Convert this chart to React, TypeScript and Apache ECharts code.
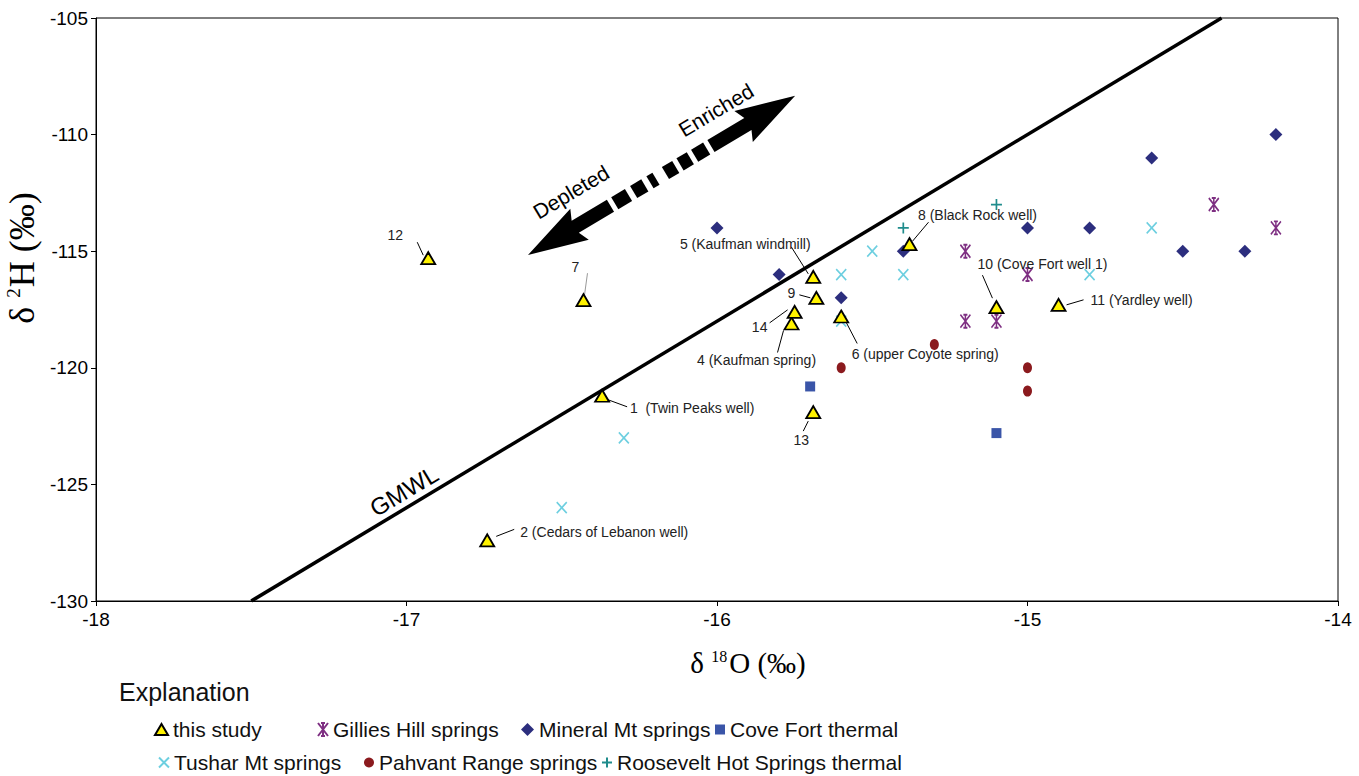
import React, { useEffect, useRef } from "react";
import * as echarts from "echarts";

// ---------- data ----------
const studyLabels = [
  "1  (Twin Peaks well)",
  "2 (Cedars of Lebanon well)",
  "4 (Kaufman spring)",
  "5 (Kaufman windmill)",
  "6 (upper Coyote spring)",
  "7",
  "8 (Black Rock well)",
  "9",
  "10 (Cove Fort well 1)",
  "11 (Yardley well)",
  "12",
  "13",
  "14",
];
const studyO18 = [-16.37, -16.74, -15.76, -15.69, -15.6, -16.43, -15.38, -15.68, -15.1, -14.9, -16.93, -15.69, -15.75];
const studyH2 = [-121.2, -127.4, -118.1, -116.1, -117.8, -117.1, -114.7, -117.0, -117.4, -117.3, -115.3, -121.9, -117.6];

const gilliesO18 = [-14.4, -14.2, -15.2, -15.0, -15.2, -15.1];
const gilliesH2 = [-113, -114, -115, -116, -118, -118];

const mineralO18 = [-14.2, -14.6, -15.0, -14.8, -14.5, -14.3, -15.4, -16.0, -15.8, -15.6];
const mineralH2 = [-110, -111, -114, -114, -115, -115, -115, -114, -116, -117];

const coveO18 = [-15.7, -15.1];
const coveH2 = [-120.8, -122.8];

const tusharO18 = [-14.6, -14.8, -15.4, -15.6, -15.5, -15.6, -16.3, -16.5];
const tusharH2 = [-114, -116, -116, -116, -115, -118, -123, -126];

const pahvantO18 = [-15.6, -15.0, -15.0, -15.3];
const pahvantH2 = [-120, -120, -121, -119];

const rooseveltO18 = [-15.1, -15.4];
const rooseveltH2 = [-113, -114];

const gmwlO18 = [-17.5, -14.375];
const gmwlH2 = [-130, -105];

const xTicks = { min: -18, max: -14, interval: 1 };
const yTicks = { min: -130, max: -105, interval: 5 };

// ---------- label layout (pixel offsets relative to each point) ----------
const labelLayout: { dx: number; dy: number; l1: number[]; l2: number[]; c?: string }[] = [
  { dx: 90, dy: 12, l1: [6, 4], l2: [25, 11] }, // 1
  { dx: 117, dy: -8, l1: [9, -4], l2: [27, -11] }, // 2
  { dx: -35, dy: 37, l1: [-8, 7], l2: [-14, 29] }, // 4
  { dx: -68, dy: -33, l1: [-5, -3], l2: [-22, -30] }, // 5
  { dx: 84, dy: 38, l1: [3, 2], l2: [16, 27] }, // 6
  { dx: -8, dy: -33, l1: [1, -5], l2: [4, -27], c: "#999" }, // 7
  { dx: 68, dy: -29, l1: [3, -3], l2: [19, -22] }, // 8
  { dx: -25, dy: -5, l1: [-6, 0], l2: [-17, -3] }, // 9
  { dx: 46, dy: -43, l1: [-4, -9], l2: [-14, -32] }, // 10
  { dx: 83, dy: -5, l1: [8, 0], l2: [25, -5] }, // 11
  { dx: -33, dy: -23, l1: [-5, -3], l2: [-11, -16] }, // 12
  { dx: -12, dy: 28, l1: [-5, 9], l2: [-10, 19] }, // 13
  { dx: -35, dy: 15, l1: [-7, -2], l2: [-25, 11] }, // 14
];

const zip = (a: number[], b: number[]) => a.map((v, i) => [v, b[i]]);

const SANS = "'Liberation Sans', Arial, sans-serif";
const SERIF = "'Liberation Serif', 'Times New Roman', serif";

const ASTERISK = "path://M0,0L10,13M10,0L0,13M5,0L5,13M3,0L7,0M3,13L7,13";
const XMARK = "path://M0,0L10,10M10,0L0,10";
const PLUS = "path://M5,0L5,10M0,5L10,5";

export default function App() {
  const ref = useRef<HTMLDivElement>(null);

  useEffect(() => {
    if (!ref.current) return;
    const chart = echarts.init(ref.current, undefined, { renderer: "svg" });

    const legendBase = {
      orient: "horizontal",
      padding: 0,
      itemGap: 0,
      textStyle: { fontSize: 21, fontFamily: SANS, color: "#111" },
    };

    const ang = 0.538;
    const arrowChildren: any[] = [
      {
        type: "polygon",
        shape: { points: [[0, 0], [60, -18], [55, -7], [96, -7], [96, 7], [55, 7], [60, 18]] },
        style: { fill: "#000" },
      },
      {
        type: "polygon",
        shape: { points: [[311, 0], [251, -18], [256, -7], [213, -7], [213, 7], [256, 7], [251, 18]] },
        style: { fill: "#000" },
      },
      ...[[101, 117], [123, 136], [142, 149], [160, 172], [177, 189], [194, 208]].map(([a, b]) => ({
        type: "rect",
        shape: { x: a, y: -7, width: b - a, height: 14 },
        style: { fill: "#000" },
      })),
    ];

    const option: any = {
      animation: false,
      backgroundColor: "#fff",
      grid: {
        left: 96,
        top: 18,
        right: 1359 - 1338,
        bottom: 776 - 601,
        show: true,
        borderColor: "#000",
        borderWidth: 1,
      },
      xAxis: {
        type: "value",
        min: xTicks.min,
        max: xTicks.max,
        interval: xTicks.interval,
        splitLine: { show: false },
        axisLine: { show: true, onZero: false, lineStyle: { color: "#000", width: 1 } },
        axisTick: { show: true, inside: false, length: 5, lineStyle: { color: "#000" } },
        axisLabel: { color: "#000", fontSize: 19, fontFamily: SANS, margin: 9 },
      },
      yAxis: {
        type: "value",
        min: yTicks.min,
        max: yTicks.max,
        interval: yTicks.interval,
        splitLine: { show: false },
        axisLine: { show: true, onZero: false, lineStyle: { color: "#000", width: 1 } },
        axisTick: { show: true, inside: false, length: 5, lineStyle: { color: "#000" } },
        axisLabel: { color: "#000", fontSize: 19, fontFamily: SANS, margin: 8 },
      },
      legend: [
        { ...legendBase, data: ["this study"], left: 154, top: 719, itemWidth: 13, itemHeight: 11 },
        { ...legendBase, data: ["Gillies Hill springs"], left: 317, top: 719, itemWidth: 10, itemHeight: 13 },
        { ...legendBase, data: ["Mineral Mt springs"], left: 521, top: 719, itemWidth: 13, itemHeight: 13 },
        { ...legendBase, data: ["Cove Fort thermal"], left: 715, top: 719, itemWidth: 10, itemHeight: 10 },
        { ...legendBase, data: ["Tushar Mt springs"], left: 158, top: 752, itemWidth: 10, itemHeight: 11 },
        { ...legendBase, data: ["Pahvant Range springs"], left: 364, top: 752, itemWidth: 10, itemHeight: 12 },
        { ...legendBase, data: ["Roosevelt Hot Springs thermal"], left: 601, top: 752, itemWidth: 10, itemHeight: 11 },
      ],
      graphic: [
        {
          type: "text",
          left: 119,
          top: 679,
          style: { text: "Explanation", fontSize: 25, fontFamily: SANS, fill: "#111" },
        },
        {
          type: "text",
          x: 748,
          y: 663,
          style: {
            text: "{a|δ }{s|18}{a|O (‰)}",
            align: "center",
            verticalAlign: "middle",
            rich: {
              a: { fontSize: 29, fontFamily: SERIF, fill: "#000" },
              s: { fontSize: 16, fontFamily: SERIF, fill: "#000", verticalAlign: "top", padding: [0, 2, 12, 0] },
            },
          },
        },
        {
          type: "text",
          x: 22,
          y: 258,
          rotation: Math.PI / 2,
          style: {
            text: "{a|δ }{s|2}{a|H (‰)}",
            align: "center",
            verticalAlign: "middle",
            rich: {
              a: { fontSize: 36, fontFamily: SERIF, fill: "#000" },
              s: { fontSize: 19, fontFamily: SERIF, fill: "#000", verticalAlign: "top", padding: [0, 1, 15, 0] },
            },
          },
        },
        {
          type: "text",
          x: 404,
          y: 491,
          rotation: 0.54,
          style: { text: "GMWL", fontSize: 24, fontFamily: SANS, fill: "#000", align: "center", verticalAlign: "middle" },
        },
        {
          type: "group",
          x: 528,
          y: 255,
          rotation: ang,
          children: arrowChildren,
        },
        {
          type: "text",
          x: 571,
          y: 192,
          rotation: ang,
          style: { text: "Depleted", fontSize: 21, fontFamily: SANS, fill: "#000", align: "center", verticalAlign: "middle" },
        },
        {
          type: "text",
          x: 716,
          y: 110,
          rotation: ang,
          style: { text: "Enriched", fontSize: 21, fontFamily: SANS, fill: "#000", align: "center", verticalAlign: "middle" },
        },
      ],
      series: [
        {
          name: "GMWL",
          type: "line",
          data: zip(gmwlO18, gmwlH2),
          symbol: "none",
          lineStyle: { color: "#000", width: 3.5 },
          silent: true,
          z: 1,
        },
        {
          name: "Tushar Mt springs",
          type: "scatter",
          data: zip(tusharO18, tusharH2),
          symbol: XMARK,
          symbolSize: [10, 11],
          itemStyle: { color: "transparent", borderColor: "#6DCFE0", borderWidth: 1.7, opacity: 1 },
          z: 3,
        },
        {
          name: "Pahvant Range springs",
          type: "scatter",
          data: zip(pahvantO18, pahvantH2),
          symbol: "circle",
          symbolSize: [9, 11],
          itemStyle: { color: "#8B1A1E", opacity: 1 },
          z: 3,
        },
        {
          name: "Cove Fort thermal",
          type: "scatter",
          data: zip(coveO18, coveH2),
          symbol: "rect",
          symbolSize: 10,
          itemStyle: { color: "#3A55A8", opacity: 1 },
          z: 3,
        },
        {
          name: "Roosevelt Hot Springs thermal",
          type: "scatter",
          data: zip(rooseveltO18, rooseveltH2),
          symbol: PLUS,
          symbolSize: 11,
          itemStyle: { color: "transparent", borderColor: "#1F8C8C", borderWidth: 1.7, opacity: 1 },
          z: 3,
        },
        {
          name: "Gillies Hill springs",
          type: "scatter",
          data: zip(gilliesO18, gilliesH2),
          symbol: ASTERISK,
          symbolSize: [10, 13],
          itemStyle: { color: "transparent", borderColor: "#7E2F82", borderWidth: 1.7, opacity: 1 },
          z: 3,
        },
        {
          name: "Mineral Mt springs",
          type: "scatter",
          data: zip(mineralO18, mineralH2),
          symbol: "diamond",
          symbolSize: 13,
          itemStyle: { color: "#2C2E7E", opacity: 1 },
          z: 3,
        },
        {
          name: "this study",
          type: "scatter",
          data: zip(studyO18, studyH2),
          symbol: "triangle",
          symbolSize: [14, 12],
          itemStyle: { color: "#FFF200", borderColor: "#000", borderWidth: 1.8, opacity: 1 },
          z: 5,
        },
        {
          name: "labels",
          type: "custom",
          data: studyO18.map((v, i) => [v, studyH2[i], i]),
          silent: true,
          z: 4,
          renderItem: (params: any, api: any) => {
            const i = api.value(2);
            const p = api.coord([api.value(0), api.value(1)]);
            const o = labelLayout[i];
            return {
              type: "group",
              children: [
                {
                  type: "line",
                  shape: { x1: p[0] + o.l1[0], y1: p[1] + o.l1[1], x2: p[0] + o.l2[0], y2: p[1] + o.l2[1] },
                  style: { stroke: o.c || "#000", lineWidth: 1 },
                },
                {
                  type: "text",
                  x: p[0] + o.dx,
                  y: p[1] + o.dy,
                  style: {
                    text: studyLabels[i],
                    fontSize: 14,
                    fontFamily: SANS,
                    fill: "#222",
                    align: "center",
                    verticalAlign: "middle",
                  },
                },
              ],
            };
          },
        },
      ],
    };

    chart.setOption(option);
    return () => chart.dispose();
  }, []);

  return <div ref={ref} style={{ width: 1359, height: 776, position: "absolute", left: 0, top: 0 }} />;
}
